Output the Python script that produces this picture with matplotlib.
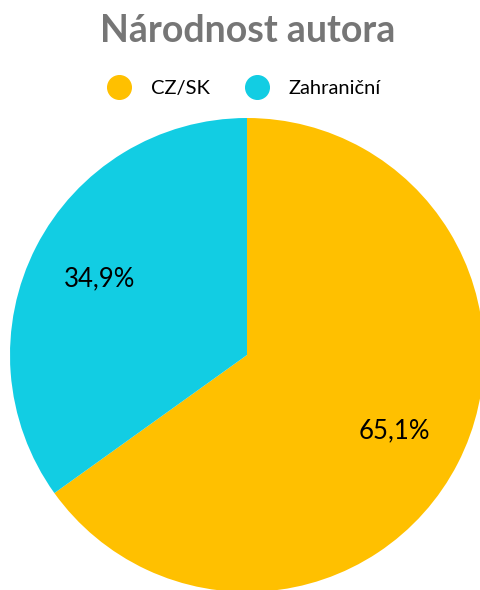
import matplotlib.pyplot as plt
from matplotlib.lines import Line2D

plt.rcParams['font.family'] = ['Lato', 'DejaVu Sans']

# data
categories = ['CZ/SK', 'Zahraniční']
values = [65.1, 34.9]
colors = ['#FFC000', '#12CDE3']

fig = plt.figure(figsize=(4.8, 5.9), dpi=100)

# pie centre ~ (247, 355) px, radius ~237 px
ax = fig.add_axes([10 / 480, -2 / 590, 474 / 480, 474 / 590])
wedges, texts, autotexts = ax.pie(values, colors=colors, startangle=90, counterclock=False,
                                  autopct=lambda p: f'{p:.1f}%'.replace('.', ','),
                                  pctdistance=0.7, radius=1,
                                  textprops={'fontsize': 18.5, 'color': 'black'})
ax.set_xlim(-1, 1)
ax.set_ylim(-1, 1)
ax.set_aspect('auto')
ax.axis('off')

fig.text(0.517, 1 - 31 / 590, 'Národnost autora', ha='center', va='center',
         fontsize=27, fontweight='bold', color='#767676')

handles = [Line2D([], [], marker='o', linestyle='', markersize=17, color=c) for c in colors]
fig.legend(handles, categories, loc='center', bbox_to_anchor=(0.50, 1 - 88 / 590), ncol=2,
           frameon=False, fontsize=14.5, handletextpad=0.6, columnspacing=1.3)

fig.savefig('out.png', dpi=100)
